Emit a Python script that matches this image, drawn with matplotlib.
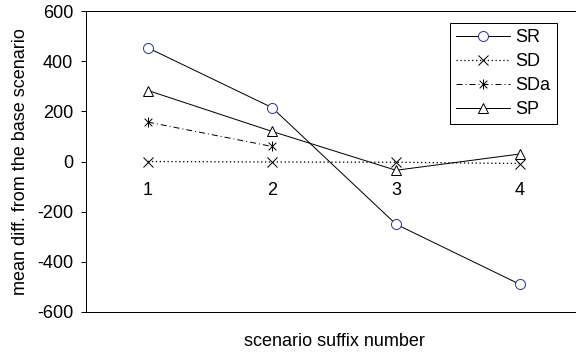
import matplotlib
matplotlib.use("Agg")
import matplotlib.pyplot as plt
from matplotlib.path import Path

# data
scenarios = [1, 2, 3, 4]
sr = [453, 215, -250, -490]
sd = [0, -2, -3, -8]
sda = [157, 60]
sp = [283, 120, -35, 30]

plt.rcParams['font.family'] = ['Liberation Sans', 'DejaVu Sans']
plt.rcParams['font.size'] = 18
plt.rcParams['axes.unicode_minus'] = False

# Excel-style star marker: an x with a vertical stroke
star = Path([(-1, -1), (1, 1), (-1, 1), (1, -1), (0, -1.3), (0, 1.3)],
            [Path.MOVETO, Path.LINETO, Path.MOVETO, Path.LINETO, Path.MOVETO, Path.LINETO])

fig = plt.figure(figsize=(8, 354 / 72), dpi=72)
ax = fig.add_axes([86 / 576, 42 / 354, 496 / 576, 301 / 354])

ax.plot(scenarios, sr, color='black', lw=1, marker='o', ms=10,
        mfc='white', mec='#333399', mew=1, label='SR')
ax.plot(scenarios, sd, color='black', lw=1.3, ls=(0, (1, 2)), marker='x', ms=10,
        mec='black', mew=1, label='SD')
ax.plot(scenarios[:len(sda)], sda, color='black', lw=1, ls=(0, (6, 3, 1, 3)),
        marker=star, ms=10, mec='black', mew=1, label='SDa')
ax.plot(scenarios, sp, color='black', lw=1, marker='^', ms=10,
        mfc='white', mec='black', mew=1, label='SP')

ax.set_xlim(0.5, 4.5)
ax.set_ylim(-600, 600)
ax.set_yticks(range(-600, 601, 200))
ax.set_xticks([])
ax.tick_params(axis='y', direction='out', length=5, width=1, pad=8)
for s in ax.spines.values():
    s.set_linewidth(1)

# category labels sit next to the zero line, like in Excel
for x in scenarios:
    ax.annotate(str(x), (x, 0), xytext=(0, -29), textcoords='offset points',
                ha='center', va='center')

ax.set_ylabel('mean diff. from the base scenario', labelpad=8)
ax.set_xlabel('scenario suffix number', labelpad=21)

leg = ax.legend(loc='upper right', bbox_to_anchor=(557 / 576, 1 - 23 / 354),
                bbox_transform=fig.transFigure, fancybox=False, framealpha=1,
                edgecolor='black', handlelength=3.0, handletextpad=0.3,
                labelspacing=0.38, borderpad=0.35, borderaxespad=0)
leg.get_frame().set_linewidth(1)

fig.savefig('out.png', dpi=72)
